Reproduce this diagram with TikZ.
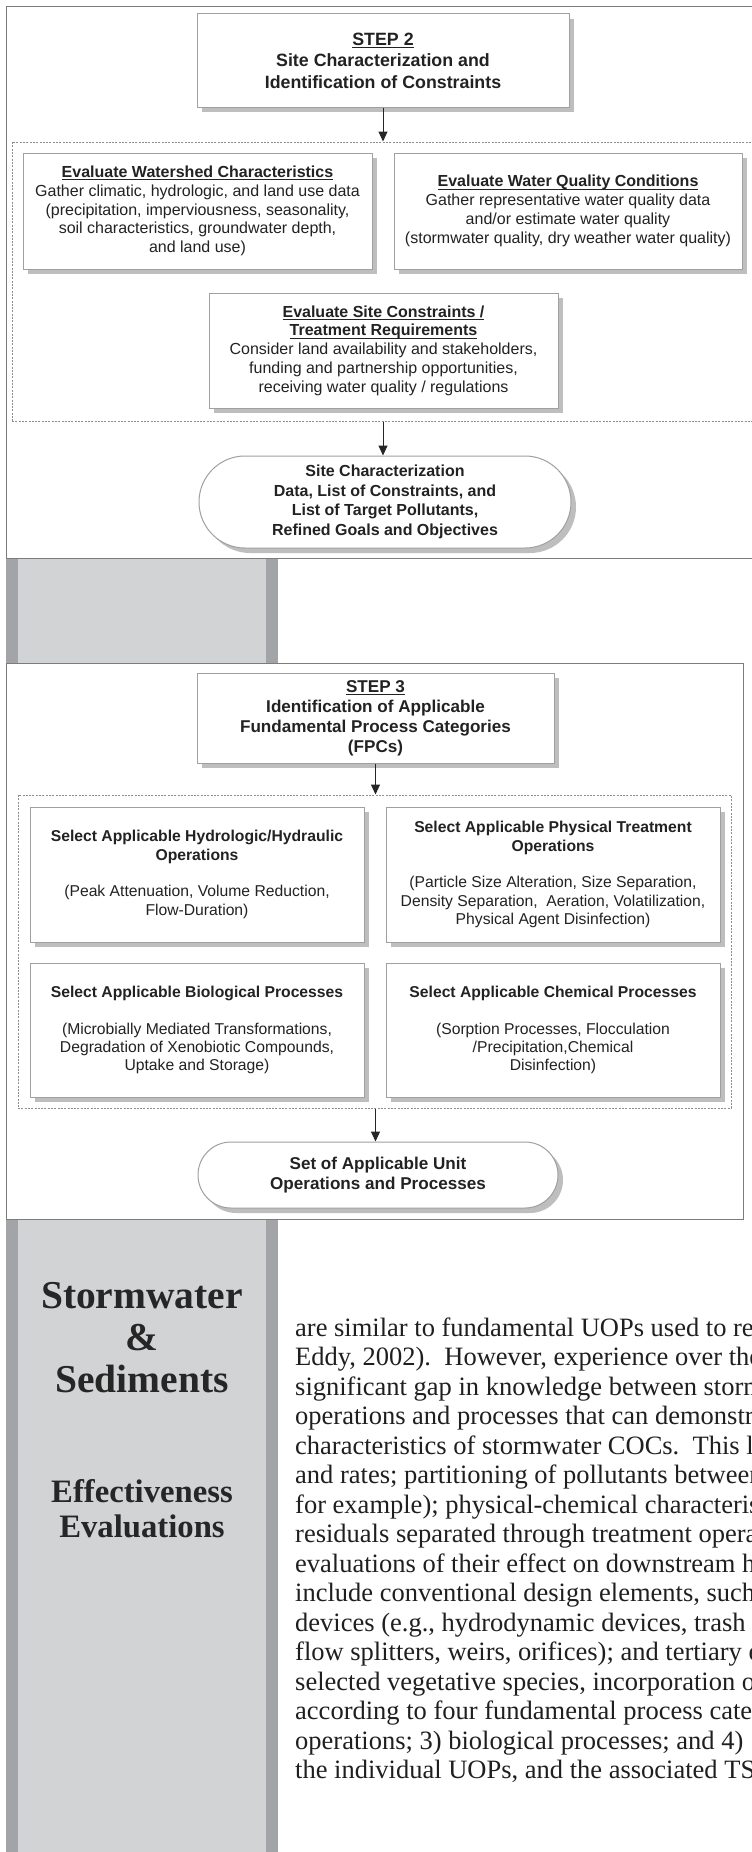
\documentclass[tikz,border=0pt]{standalone}
\usepackage{fontspec}
\setmainfont{Liberation Serif}
\newfontfamily\arialf{Liberation Sans}
\newfontfamily\sidef{Liberation Serif}
\usetikzlibrary{arrows.meta,shadows}
\definecolor{boxline}{HTML}{A0A0A0}
\definecolor{frameline}{HTML}{7C7C7C}
\definecolor{shade}{HTML}{BEBEBE}
\definecolor{txt}{HTML}{222222}
\definecolor{sidedark}{HTML}{A3A4A8}
\definecolor{sidelight}{HTML}{D2D3D5}
\definecolor{dashc}{HTML}{8E8E8E}
\newcommand\myul[1]{\setbox0\hbox{#1}\rlap{\rule[-2.6pt]{\wd0}{0.9pt}}\box0}
\tikzset{
  box/.style={draw=boxline, line width=1pt, fill=white, inner sep=0pt, align=center, text=txt,
    drop shadow={shadow xshift=5pt, shadow yshift=-5pt, fill=shade, opacity=1}},
  stepfont/.style={font=\arialf\bfseries\fontsize{17.8}{21.5}\selectfont},
  boxfontA/.style={font=\arialf\fontsize{16}{18.8}\selectfont},
  boxfontB/.style={font=\arialf\fontsize{15.7}{18.3}\selectfont},
  container/.style={draw=dashc, line width=1pt, dash pattern=on 2pt off 1.3pt, inner sep=0pt},
  frame/.style={draw=frameline, line width=1pt},
  arr/.style={draw=black!85, line width=1pt, -{Triangle[width=9pt,length=10pt]}},
  body/.style={anchor=base west, inner sep=0pt, text=black!88, font=\fontsize{26.5}{29.5}\selectfont},
  side/.style={anchor=base, inner sep=0pt, text=black!85}
}
\begin{document}
\begin{tikzpicture}[x=1pt,y=-1pt]
\useasboundingbox (0,0) rectangle (752,1852);
\fill[white] (0,0) rectangle (752,1852);
\begin{scope}
\clip (0,0) rectangle (752,1852);
% sidebars
\fill[sidedark] (6,558) rectangle (278,663);
\fill[sidelight] (18,558) rectangle (266,663);
\fill[sidedark] (6,1219) rectangle (278,1860);
\fill[sidelight] (18,1219) rectangle (266,1860);
% frames
\draw[frame] (6,7) rectangle (770,558);
\draw[frame] (6,663) rectangle (743,1219);

% ---------- STEP 2 ----------
\node[box, stepfont, minimum width=372pt, minimum height=93pt] (s2) at (383,60.5)
  {\myul{STEP 2}\\Site Characterization and\\Identification of Constraints};
\node[container, minimum width=758pt, minimum height=279pt] (c1) at (391,281.5) {};
\node[box, boxfontA, minimum width=349pt, minimum height=116pt] (ws) at (197.5,211)
  {\textbf{\myul{Evaluate Watershed Characteristics}}\\Gather climatic, hydrologic, and land use data\\(precipitation, imperviousness, seasonality,\\soil characteristics, groundwater depth,\\and land use)};
\node[box, boxfontA, minimum width=348pt, minimum height=116pt] (wq) at (568,211)
  {\textbf{\myul{Evaluate Water Quality Conditions}}\\Gather representative water quality data\\and/or estimate water quality\\(stormwater quality, dry weather water quality)};
\node[box, boxfontA, minimum width=349pt, minimum height=115pt] (sc) at (383.5,350.5)
  {\textbf{\myul{Evaluate Site Constraints /}}\\\textbf{\myul{Treatment Requirements}}\\Consider land availability and stakeholders,\\funding and partnership opportunities,\\receiving water quality / regulations};
\node[box, font=\arialf\bfseries\fontsize{16}{19.5}\selectfont, minimum width=372pt, minimum height=92pt, rounded corners=46pt] (o1) at (385,502)
  {Site Characterization\\Data, List of Constraints, and\\List of Target Pollutants,\\Refined Goals and Objectives};
\draw[arr] (s2.south) -- (s2.south |- c1.north);
\draw[arr] (s2.south |- c1.south) -- (s2.south |- o1.north);

% ---------- STEP 3 ----------
\node[box, font=\arialf\bfseries\fontsize{17.1}{20}\selectfont, minimum width=357pt, minimum height=90pt] (s3) at (375.5,718)
  {\myul{STEP 3}\\Identification of Applicable\\Fundamental Process Categories\\(FPCs)};
\node[container, minimum width=713pt, minimum height=313pt] (c2) at (374.5,951.5) {};
\node[box, boxfontB, minimum width=334pt, minimum height=135pt] (hy) at (197,874.5)
  {\textbf{Select Applicable Hydrologic/Hydraulic}\\\textbf{Operations}\\[18.3pt](Peak Attenuation, Volume Reduction,\\Flow-Duration)};
\node[box, boxfontB, minimum width=334pt, minimum height=135pt] (ph) at (553,874.5)
  {\textbf{Select Applicable Physical Treatment}\\\textbf{Operations}\\[18.3pt](Particle Size Alteration, Size Separation,\\Density Separation,\ \ Aeration, Volatilization,\\Physical Agent Disinfection)};
\node[box, boxfontB, minimum width=334pt, minimum height=134pt] (bi) at (197,1030)
  {\textbf{Select Applicable Biological Processes}\\[18.3pt](Microbially Mediated Transformations,\\Degradation of Xenobiotic Compounds,\\Uptake and Storage)};
\node[box, boxfontB, minimum width=334pt, minimum height=134pt] (ch) at (553,1030)
  {\textbf{Select Applicable Chemical Processes}\\[18.3pt](Sorption Processes, Flocculation\\/Precipitation,Chemical\\Disinfection)};
\node[box, font=\arialf\bfseries\fontsize{17.1}{20}\selectfont, minimum width=360pt, minimum height=66pt, rounded corners=33pt] (o2) at (378,1175)
  {Set of Applicable Unit\\Operations and Processes};
\draw[arr] (s3.south) -- (s3.south |- c2.north);
\draw[arr] (s3.south |- c2.south) -- (s3.south |- o2.north);

% ---------- sidebar text ----------
\node[side, font=\sidef\bfseries\fontsize{39.5}{45}\selectfont] (sw) at (142,1308) {Stormwater};
\node[side, font=\sidef\bfseries\fontsize{39.5}{45}\selectfont] (amp) at (142,1350) {\&};
\node[side, font=\sidef\bfseries\fontsize{39.5}{45}\selectfont] (sd) at (142,1392) {Sediments};
\node[side, font=\sidef\bfseries\fontsize{32.7}{36}\selectfont] (ef) at (142,1502) {Effectiveness};
\node[side, font=\sidef\bfseries\fontsize{32.7}{36}\selectfont] (ev) at (142,1537) {Evaluations};

% ---------- body text ----------
\foreach \t [count=\i from 0] in {
  {are similar to fundamental UOPs used to re},
  {Eddy, 2002).\ \ However, experience over the},
  {significant gap in knowledge between storm},
  {operations and processes that can demonstra},
  {characteristics of stormwater COCs.\ \ This l},
  {and rates; partitioning of pollutants between},
  {for example); physical-chemical characteris},
  {residuals separated through treatment opera},
  {evaluations of their effect on downstream h},
  {include conventional design elements, such},
  {devices (e.g., hydrodynamic devices, trash},
  {flow splitters, weirs, orifices); and tertiary e},
  {selected vegetative species, incorporation o},
  {according to four fundamental process cate},
  {operations; 3) biological processes; and 4)},
  {the individual UOPs, and the associated TS}}
  \node[body] (tx\i) at (295,1336+29.5*\i) {\t};
\end{scope}
\end{tikzpicture}
\end{document}
